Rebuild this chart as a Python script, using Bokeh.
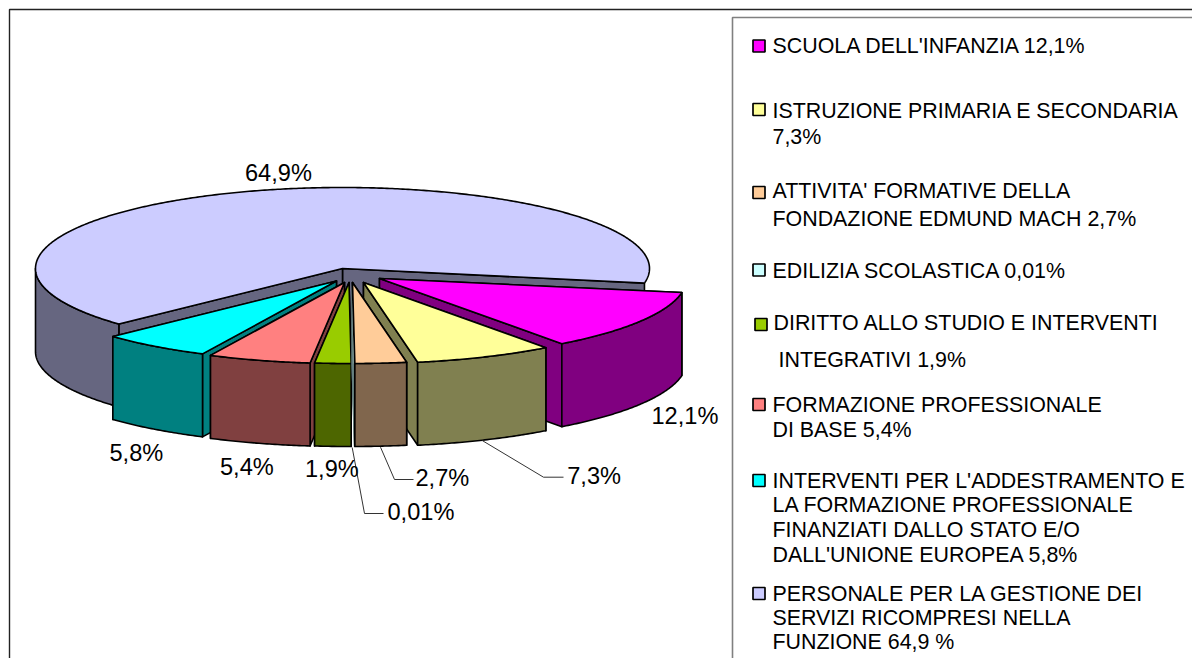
import math
from bokeh.plotting import figure
from bokeh.core.properties import value
from bokeh.embed import file_html
from bokeh.resources import INLINE

# --- data ---------------------------------------------------------------
categories = ["SCUOLA DELL'INFANZIA", "ISTRUZIONE PRIMARIA E SECONDARIA",
              "ATTIVITA' FORMATIVE DELLA FONDAZIONE EDMUND MACH", "EDILIZIA SCOLASTICA",
              "DIRITTO ALLO STUDIO E INTERVENTI INTEGRATIVI", "FORMAZIONE PROFESSIONALE DI BASE",
              "INTERVENTI PER L'ADDESTRAMENTO E LA FORMAZIONE PROFESSIONALE FINANZIATI DALLO STATO E/O DALL'UNIONE EUROPEA",
              "PERSONALE PER LA GESTIONE DEI SERVIZI RICOMPRESI NELLA FUNZIONE"]
shares = [12.1, 7.3, 2.7, 0.01, 1.9, 5.4, 5.8, 64.9]
share_labels = ["12,1%", "7,3%", "2,7%", "0,01%", "1,9%", "5,4%", "5,8%", "64,9%"]
top_colors = ["#FF00FF", "#FFFF99", "#FFCC99", "#CCFFFF", "#99CC00", "#FF8080", "#00FFFF", "#CCCCFF"]
wall_colors = ["#800080", "#808050", "#80664D", "#668080", "#4D6600", "#804040", "#008080", "#666680"]
legend_lines = [["SCUOLA DELL'INFANZIA 12,1%"],
                ["ISTRUZIONE PRIMARIA E SECONDARIA", "7,3%"],
                ["ATTIVITA' FORMATIVE DELLA", "FONDAZIONE EDMUND MACH 2,7%"],
                ["EDILIZIA SCOLASTICA 0,01%"],
                ["DIRITTO ALLO STUDIO E INTERVENTI", "INTEGRATIVI 1,9%"],
                ["FORMAZIONE PROFESSIONALE", "DI BASE 5,4%"],
                ["INTERVENTI PER L'ADDESTRAMENTO E", "LA FORMAZIONE PROFESSIONALE",
                 "FINANZIATI DALLO STATO E/O", "DALL'UNIONE EUROPEA 5,8%"],
                ["PERSONALE PER LA GESTIONE DEI", "SERVIZI RICOMPRESI NELLA", "FUNZIONE 64,9 %"]]

# --- layout --------------------------------------------------------------
W, H = 1192, 658
FONT = value("Liberation Sans")
LABEL_PX, LEGEND_PX = 23.6, 21.4
CX, CY, RX, RY, DEPTH = 342, 268, 307, 81, 83
START = -10.0
EXPLODE = [(37, 10), (21, 14), (10, 14), (9, 14), (6.5, 14), (2, 14), (-6, 12.5), (0, 0)]
LABEL_POS = [(651, 424.3), (566.7, 484), (415, 485.7), (387, 520.3),
             (304.5, 476.7), (219.5, 475), (109, 460.7), (244.5, 180.7)]
LEGEND_SWATCH = [(752.5, 39.5), (752.5, 103), (752.5, 186), (752.5, 263.5),
                 (754.5, 318), (752.5, 398), (752.5, 474), (752.5, 587)]
LEGEND_TEXT = [[(772, 53.7)], [(772, 118.3), (772, 144.3)], [(772, 198.7), (772, 226)],
               [(772, 278.7)], [(773, 330), (778, 367.7)], [(772, 412.7), (772, 437)],
               [(772, 488.3), (772, 512.7), (772, 537.7), (772, 562.7)],
               [(772, 601), (772, 625), (772, 649.3)]]
LEADERS = [([481.7, 543, 563], [440, 476.7, 476.7]),
           ([380, 394, 413], [446.7, 479, 479]),
           ([351.7, 364, 383], [447, 513, 513])]

p = figure(width=W, height=H, x_range=(0, W), y_range=(H, 0),
           output_backend="svg", toolbar_location=None, min_border=0,
           background_fill_color="white", border_fill_color="white", outline_line_color=None)
p.axis.visible = False
p.grid.visible = False

# frames
p.line([9, 9, 1192], [658, 9, 9], line_color="#222222", line_width=1.4)
p.line([732, 732, 1192], [658, 17, 17], line_color="#808080", line_width=1.6)


def pt(ax, ay, deg, dz=0):
    a = math.radians(deg)
    return ax + RX * math.cos(a), ay - RY * math.sin(a) + dz


def arc(ax, ay, a0, a1, dz=0):
    n = max(2, int(abs(a1 - a0) * 2))
    return [pt(ax, ay, a0 + (a1 - a0) * i / n, dz) for i in range(n + 1)]


def poly(points, color, line=True):
    xs, ys = zip(*points)
    p.patch(list(xs), list(ys), fill_color=color, line_color="black" if line else color,
            line_width=1.6 if line else 0, line_join="round", line_alpha=1 if line else 0)


def slice3d(i, a0, a1):
    ax, ay = CX + EXPLODE[i][0], CY + EXPLODE[i][1]
    line = shares[i] >= 0.1
    top, wall = top_colors[i], wall_colors[i]
    cuts = sorted([a0, a1], key=lambda a: -abs(((a + 90 + 180) % 360) - 180))
    for a in cuts:
        c = pt(ax, ay, a)
        poly([c, (ax, ay), (ax, ay + DEPTH), (c[0], c[1] + DEPTH)], wall, line)
    lo, hi = min(a0, a1), max(a0, a1)
    for k in (-360, 0):
        s, e = max(lo, 180 + k), min(hi, 360 + k)
        if e > s:
            poly(arc(ax, ay, s, e) + arc(ax, ay, e, s, DEPTH), wall, line)
    poly([(ax, ay)] + arc(ax, ay, a0, a1), top, line)


angles = []
a = START
for s in shares:
    angles.append((a, a - s * 3.6))
    a -= s * 3.6
order = sorted(range(len(shares) - 1), key=lambda i: -abs(sum(angles[i]) / 2 + 90))
slice3d(len(shares) - 1, angles[-1][0], angles[-1][1])
for i in order:
    slice3d(i, *angles[i])

for xs, ys in LEADERS:
    p.line(xs, ys, line_color="#333333", line_width=1)


def text_at(points, strings, px):
    # anchored on the mid-height of the capitals
    p.text(x=[q[0] for q in points], y=[q[1] - 0.36 * px for q in points], text=strings,
           text_font=FONT, text_font_size=value(f"{px}px"), text_color="black",
           text_baseline="middle", text_align="left")


text_at(LABEL_POS, share_labels, LABEL_PX)

for i, lines in enumerate(legend_lines):
    sx, sy = LEGEND_SWATCH[i]
    p.quad(left=[sx], right=[sx + 12], top=[sy], bottom=[sy + 12], fill_color=top_colors[i],
           line_color="black", line_width=1.7)
    text_at(LEGEND_TEXT[i], lines, LEGEND_PX)

open("out.html", "w").write(file_html(p, INLINE))
